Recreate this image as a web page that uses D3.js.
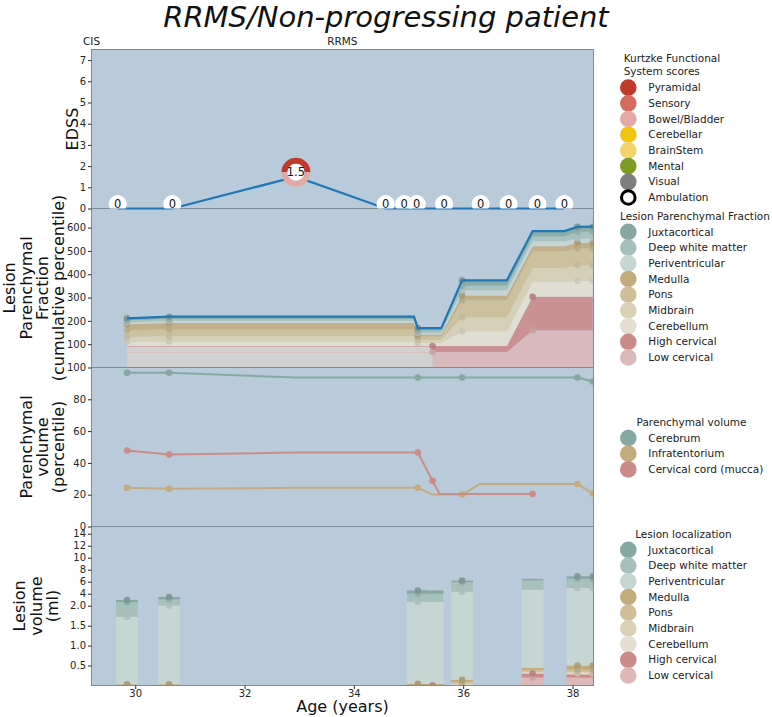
<!DOCTYPE html>
<html>
<head>
<meta charset="utf-8">
<script src="https://cdn.jsdelivr.net/npm/d3@7"></script>
<style>
body { margin: 0; background: #fff; }
svg { font-family: "DejaVu Sans", sans-serif; }
</style>
</head>
<body>
<div id="chart"></div>
<script>

// ---- EDSS visits ----
var edssAges   = [29.68, 30.68, 32.94, 34.58, 34.92, 35.15, 35.65, 36.32, 36.83, 37.36, 37.85];
var edssValues = [0, 0, 1.5, 0, 0, 0, 0, 0, 0, 0, 0];

// Kurtzke functional system scores per EDSS visit
var fsNames  = ["Pyramidal", "Sensory", "Bowel/Bladder", "Cerebellar", "BrainStem", "Mental", "Visual", "Ambulation"];
var fsColors = ["#c0392b", "#d4695f", "#e3aaa5", "#f1c40f", "#f4d36b", "#809b25", "#7f7f7f", "#ffffff"];
var fsPyramidal  = [0, 0, 1, 0, 0, 0, 0, 0, 0, 0, 0];
var fsSensory    = [0, 0, 0, 0, 0, 0, 0, 0, 0, 0, 0];
var fsBowel      = [0, 0, 1, 0, 0, 0, 0, 0, 0, 0, 0];
var fsCerebellar = [0, 0, 0, 0, 0, 0, 0, 0, 0, 0, 0];
var fsBrainStem  = [0, 0, 0, 0, 0, 0, 0, 0, 0, 0, 0];
var fsMental     = [0, 0, 0, 0, 0, 0, 0, 0, 0, 0, 0];
var fsVisual     = [0, 0, 0, 0, 0, 0, 0, 0, 0, 0, 0];

// disease phases
var phaseNames = ["CIS", "RRMS"];
var phaseAges  = [29.2, 33.79];

// lesion regions (legend order) and colours
var regionNames  = ["Juxtacortical", "Deep white matter", "Periventricular", "Medulla", "Pons", "Midbrain", "Cerebellum", "High cervical", "Low cervical"];
var regionColors = ["#87a8a2", "#a6c1bc", "#c5d6d3", "#c3ab7e", "#cfbf98", "#dad0b5", "#e4dfd2", "#cb8b89", "#dcb8b8"];

// ---- Lesion parenchymal fraction (percentile per region, values carried forward between scans) ----
var lpfAges      = [29.85, 30.62, 35.1, 35.17, 35.44, 35.6, 35.98, 36.8, 37.27, 37.85, 38.09, 38.37];
var lpfBrainScan = [1, 1, 0, 1, 0, 0, 1, 0, 0, 0, 1, 1];
var lpfCordScan  = [0, 0, 0, 0, 1, 0, 0, 0, 1, 0, 0, 0];
var lpfJuxta     = [9, 10, 10, 10, 10, 10, 23, 23, 23, 23, 21, 22];
var lpfDeep      = [9, 9, 9, 11, 11, 11, 20, 20, 20, 20, 29, 29];
var lpfPeriv     = [7, 8, 8, 6, 6, 6, 22, 22, 22, 22, 18, 19];
var lpfMedulla   = [26, 27, 27, 9, 9, 9, 21, 21, 21, 21, 24, 24];
var lpfPons      = [28, 29, 29, 14, 14, 14, 72, 72, 72, 72, 72, 71];
var lpfMidbrain  = [22, 23, 23, 14, 14, 14, 60, 60, 60, 60, 67, 67];
var lpfCerebellum= [18, 20, 20, 13, 13, 13, 64, 64, 64, 64, 69, 69];
var lpfHighCerv  = [26, 26, 26, 26, 26, 26, 26, 26, 143, 143, 143, 143];
var lpfLowCerv   = [66, 66, 66, 66, 66, 66, 66, 66, 160, 160, 160, 160];

// ---- Parenchymal volume (percentile) ----
var pvNames  = ["Cerebrum", "Infratentorium", "Cervical cord (mucca)"];
var pvColors = ["#87a8a2", "#c3ab7e", "#cb8b89"];
var cerebrumAges = [29.85, 30.62, 32.94, 35.17, 35.98, 38.09, 38.37];
var cerebrumPct  = [96.7, 96.7, 93.7, 93.7, 93.7, 93.7, 91.2];
var cerebrumDot  = [1, 1, 0, 1, 1, 1, 1];
var infraAges = [29.85, 30.62, 32.94, 35.17, 35.44, 35.98, 36.3, 38.09, 38.37];
var infraPct  = [24.3, 23.7, 24.3, 24.3, 20.1, 20.1, 26.7, 26.7, 20.8];
var infraDot  = [1, 1, 0, 1, 0, 1, 0, 1, 1];
var cordAges = [29.85, 30.62, 32.94, 35.17, 35.44, 35.57, 37.27];
var cordPct  = [47.8, 45.3, 46.5, 46.5, 28.7, 20.4, 20.4];
var cordDot  = [1, 1, 0, 1, 1, 0, 1];

// ---- Lesion volume (ml) ----
var lvAges      = [29.85, 30.62, 35.17, 35.44, 35.98, 37.27, 38.09, 38.37];
var lvBrainScan = [1, 1, 1, 0, 1, 0, 1, 1];
var lvCordScan  = [0, 0, 0, 1, 0, 1, 0, 0];
var lvJuxta     = [0.38, 0.40, 0.55, 0.55, 0.27, 0.27, 0.38, 0.38];
var lvDeep      = [0.85, 1.03, 1.35, 1.35, 1.57, 1.57, 1.55, 1.55];
var lvPeriv     = [1.69, 1.99, 2.60, 2.60, 4.20, 4.20, 4.45, 4.45];
var lvMedulla   = [0.03, 0.03, 0.04, 0.04, 0.05, 0.05, 0.10, 0.10];
var lvPons      = [0, 0, 0, 0, 0.04, 0.04, 0.06, 0.06];
var lvMidbrain  = [0, 0, 0, 0, 0.02, 0.02, 0.03, 0.03];
var lvCerebellum= [0, 0, 0, 0, 0.03, 0.03, 0.03, 0.03];
var lvHighCerv  = [0, 0, 0, 0, 0, 0.10, 0.08, 0.08];
var lvLowCerv   = [0, 0, 0, 0, 0, 0.20, 0.20, 0.20];

// axis ticks
var xTicks    = [30, 32, 34, 36, 38];
var edssTicks = [0, 1, 2, 3, 4, 5, 6, 7];
var lpfTicks  = [100, 200, 300, 400, 500, 600];
var pvTicks   = [0, 20, 40, 60, 80, 100];
var lvTicks   = [0.5, 1, 1.5, 2, 4, 6, 8, 10, 12, 14];

// ---- layout ----
var plotLeft = 91.5, plotRight = 593.5, plotTop = 49.5, panelH = 159;
var panels = [0, 1, 2, 3].map(function (i) {
    return { top: plotTop + i * panelH, bottom: plotTop + (i + 1) * panelH };
});
var bgColor = "#b9cbdb", spineColor = "#7f8c97", tickColor = "#262626";

var svg = d3.select("#chart").append("svg")
    .attr("width", 772)
    .attr("height", 717);

var defs = svg.append("defs");
panels.forEach(function (p, i) {
    defs.append("clipPath").attr("id", "clip" + i)
        .append("rect")
        .attr("x", plotLeft).attr("y", p.top)
        .attr("width", plotRight - plotLeft).attr("height", panelH);
});

var x = d3.scaleLinear().domain([29.2, 38.384]).range([plotLeft, plotRight]);
var yEdss = d3.scaleLinear().domain([0, 7.5]).range([panels[0].bottom, panels[0].top]);
var yLpf = d3.scaleLinear().domain([0, 682]).range([panels[1].bottom, panels[1].top]);
var yPv = d3.scaleLinear().domain([0, 100]).range([panels[2].bottom, panels[2].top]);
//lesion volume axis: stretched below 2 ml, compressed above
var yLv = d3.scaleLinear().domain([0, 2, 15.2])
    .range([panels[3].bottom, panels[3].bottom - panelH * 0.502, panels[3].top]);

// background of the four stacked panels
svg.append("rect")
    .attr("x", plotLeft).attr("y", plotTop)
    .attr("width", plotRight - plotLeft).attr("height", panelH * 4)
    .attr("fill", bgColor);

// title
svg.append("text")
    .attr("x", 386).attr("y", 27)
    .attr("text-anchor", "middle")
    .attr("font-size", "29px")
    .attr("font-style", "italic")
    .attr("fill", "#111")
    .text("RRMS/Non-progressing patient");

// phase labels
svg.selectAll(".phase")
    .data(phaseNames)
    .enter().append("text")
    .attr("class", "phase")
    .attr("x", function (d, i) { return x(phaseAges[i]); })
    .attr("y", 45)
    .attr("text-anchor", "middle")
    .attr("font-size", "10.5px")
    .attr("fill", "#222")
    .text(function (d) { return d; });

/* ---------------- Lesion parenchymal fraction ---------------- */
var stackKeys = ["lowC", "highC", "cereb", "midb", "pons", "med", "periv", "deep", "juxta"];
var stackColors = regionColors.slice().reverse();
var lpfRows = lpfAges.map(function (a, i) {
    return {
        age: a, lowC: lpfLowCerv[i], highC: lpfHighCerv[i], cereb: lpfCerebellum[i],
        midb: lpfMidbrain[i], pons: lpfPons[i], med: lpfMedulla[i],
        periv: lpfPeriv[i], deep: lpfDeep[i], juxta: lpfJuxta[i]
    };
});
var lpfStack = d3.stack().keys(stackKeys)(lpfRows);

var gLpf = svg.append("g").attr("clip-path", "url(#clip1)");
var lpfArea = d3.area()
    .x(function (d) { return x(d.data.age); })
    .y0(function (d) { return yLpf(d[0]); })
    .y1(function (d) { return yLpf(d[1]); });
var lpfTop = d3.line()
    .x(function (d) { return x(d.data.age); })
    .y(function (d) { return yLpf(d[1]); });

var firstCord = lpfCordScan.indexOf(1);
lpfStack.forEach(function (layer, k) {
    if (k < 2) {
        // cervical cord not measured yet: grey
        var before = layer.slice(0, firstCord + 1);
        gLpf.append("path").datum(before)
            .attr("d", lpfArea)
            .attr("fill", "#d1d1d1");
        gLpf.append("path").datum(before)
            .attr("d", lpfTop)
            .attr("fill", "none")
            .attr("stroke", stackColors[k])
            .attr("stroke-width", 1);
        gLpf.append("path").datum(layer.slice(firstCord))
            .attr("d", lpfArea)
            .attr("fill", stackColors[k])
            .attr("fill-opacity", 0.9);
    } else {
        gLpf.append("path").datum(layer)
            .attr("d", lpfArea)
            .attr("fill", stackColors[k])
            .attr("fill-opacity", 0.9);
    }
});

// markers at the scan dates
lpfStack.forEach(function (layer, k) {
    var flags = k < 2 ? lpfCordScan : lpfBrainScan;
    gLpf.selectAll(".m" + k)
        .data(layer.filter(function (d, i) { return flags[i]; }))
        .enter().append("circle")
        .attr("cx", function (d) { return x(d.data.age); })
        .attr("cy", function (d) { return yLpf(d[1]); })
        .attr("r", 3.3)
        .attr("fill", d3.color(stackColors[k]).darker(0.35))
        .attr("fill-opacity", 0.85);
});

gLpf.append("path").datum(lpfStack[lpfStack.length - 1])
    .attr("d", lpfTop)
    .attr("fill", "none")
    .attr("stroke", "#1f77b4")
    .attr("stroke-width", 2.2);

/* ---------------- Parenchymal volume ---------------- */
var gPv = svg.append("g").attr("clip-path", "url(#clip2)");
var pvSeries = [
    { ages: cerebrumAges, vals: cerebrumPct, dots: cerebrumDot },
    { ages: infraAges, vals: infraPct, dots: infraDot },
    { ages: cordAges, vals: cordPct, dots: cordDot }
];
var pvLine = d3.line()
    .x(function (d) { return x(d[0]); })
    .y(function (d) { return yPv(d[1]); });

pvSeries.forEach(function (s, k) {
    var pts = s.ages.map(function (a, i) { return [a, s.vals[i], s.dots[i]]; });
    gPv.append("path").datum(pts)
        .attr("d", pvLine)
        .attr("fill", "none")
        .attr("stroke", pvColors[k])
        .attr("stroke-width", 2)
        .attr("stroke-linejoin", "round");
    gPv.selectAll(".pv" + k)
        .data(pts.filter(function (d) { return d[2]; }))
        .enter().append("circle")
        .attr("cx", function (d) { return x(d[0]); })
        .attr("cy", function (d) { return yPv(d[1]); })
        .attr("r", 3.3)
        .attr("fill", pvColors[k]);
});

/* ---------------- Lesion volume ---------------- */
var lvRows = lvAges.map(function (a, i) {
    return {
        age: a, lowC: lvLowCerv[i], highC: lvHighCerv[i], cereb: lvCerebellum[i],
        midb: lvMidbrain[i], pons: lvPons[i], med: lvMedulla[i],
        periv: lvPeriv[i], deep: lvDeep[i], juxta: lvJuxta[i]
    };
});
var lvStack = d3.stack().keys(stackKeys)(lvRows);
var barHalf = 0.2; // years

var gLv = svg.append("g").attr("clip-path", "url(#clip3)");
lvStack.forEach(function (layer, k) {
    gLv.selectAll(".bar" + k)
        .data(layer)
        .enter().append("rect")
        .attr("x", function (d) { return x(d.data.age - barHalf); })
        .attr("width", function (d) { return x(d.data.age + barHalf) - x(d.data.age - barHalf); })
        .attr("y", function (d) { return yLv(d[1]); })
        .attr("height", function (d) { return yLv(d[0]) - yLv(d[1]); })
        .attr("fill", stackColors[k]);
});
lvStack.forEach(function (layer, k) {
    var flags = k < 2 ? lvCordScan : lvBrainScan;
    gLv.selectAll(".lm" + k)
        .data(layer.filter(function (d, i) { return flags[i]; }))
        .enter().append("circle")
        .attr("cx", function (d) { return x(d.data.age); })
        .attr("cy", function (d) { return yLv(d[1]); })
        .attr("r", 3.3)
        .attr("fill", d3.color(stackColors[k]).darker(0.35))
        .attr("fill-opacity", 0.85);
});

/* ---------------- spines + axes ---------------- */
panels.forEach(function (p) {
    svg.append("rect")
        .attr("x", plotLeft).attr("y", p.top)
        .attr("width", plotRight - plotLeft).attr("height", panelH)
        .attr("fill", "none")
        .attr("stroke", spineColor)
        .attr("stroke-width", 1);
});

function styleAxis(g) {
    g.select(".domain").remove();
    g.selectAll(".tick line").attr("stroke", tickColor);
    g.selectAll(".tick text").attr("fill", tickColor).attr("font-size", "10px")
        .attr("font-family", "DejaVu Sans");
}

svg.append("g").attr("transform", "translate(" + plotLeft + ",0)")
    .call(d3.axisLeft(yEdss).tickValues(edssTicks).tickSize(3.5).tickPadding(2))
    .call(styleAxis);
svg.append("g").attr("transform", "translate(" + plotLeft + ",0)")
    .call(d3.axisLeft(yLpf).tickValues(lpfTicks).tickSize(3.5).tickPadding(2))
    .call(styleAxis);
svg.append("g").attr("transform", "translate(" + plotLeft + ",0)")
    .call(d3.axisLeft(yPv).tickValues(pvTicks).tickSize(3.5).tickPadding(2))
    .call(styleAxis);
svg.append("g").attr("transform", "translate(" + plotLeft + ",0)")
    .call(d3.axisLeft(yLv).tickValues(lvTicks).tickSize(3.5).tickPadding(2)
        .tickFormat(function (d) { return d <= 2 ? d3.format(".1f")(d) : d3.format("d")(d); }))
    .call(styleAxis);
svg.append("g").attr("transform", "translate(0," + panels[3].bottom + ")")
    .call(d3.axisBottom(x).tickValues(xTicks).tickSize(3.5).tickPadding(0.5))
    .call(styleAxis);

svg.append("text")
    .attr("x", (plotLeft + plotRight) / 2).attr("y", 712)
    .attr("text-anchor", "middle")
    .attr("font-size", "16px")
    .attr("fill", "#111")
    .text("Age (years)");

// rotated y labels, one text per line
var yLabels = [
    { lines: ["EDSS"], last: 78.3 },
    { lines: ["Lesion", "Parenchymal", "Fraction", "(cumulative percentile)"], last: 64.3 },
    { lines: ["Parenchymal", "volume", "(percentile)"], last: 64.3 },
    { lines: ["Lesion", "volume", "(ml)"], last: 58 }
];
yLabels.forEach(function (lab, i) {
    var cy = (panels[i].top + panels[i].bottom) / 2;
    var n = lab.lines.length;
    lab.lines.forEach(function (t, j) {
        var bx = lab.last - (n - 1 - j) * 16.4;
        svg.append("text")
            .attr("transform", "translate(" + bx + "," + cy + ") rotate(-90)")
            .attr("text-anchor", "middle")
            .attr("font-size", "16px")
            .attr("fill", "#111")
            .text(t);
    });
});

/* ---------------- EDSS ---------------- */
var edssPts = edssAges.map(function (a, i) { return [a, edssValues[i]]; });
svg.append("path").datum(edssPts)
    .attr("d", d3.line()
        .x(function (d) { return x(d[0]); })
        .y(function (d) { return yEdss(d[1]); }))
    .attr("fill", "none")
    .attr("stroke", "#1f77b4")
    .attr("stroke-width", 2.2);

var fsTable = [fsPyramidal, fsSensory, fsBowel, fsCerebellar, fsBrainStem, fsMental, fsVisual];
var gEdss = svg.append("g").attr("clip-path", "url(#clip0)");
var pie = d3.pie().sort(null).startAngle(-Math.PI / 2).endAngle(Math.PI * 1.5);
var arc = d3.arc().innerRadius(8.5).outerRadius(14.5);

edssAges.forEach(function (a, i) {
    var cx = x(a), cy = yEdss(edssValues[i]) - 4.5;
    var scores = fsTable.map(function (s) { return s[i]; });
    var g = gEdss.append("g").attr("transform", "translate(" + cx + "," + cy + ")");
    if (d3.sum(scores) > 0) {
        g.selectAll("path")
            .data(pie(scores))
            .enter().append("path")
            .attr("d", arc)
            .attr("fill", function (d, k) { return fsColors[k]; });
        g.append("circle").attr("r", 8.5).attr("fill", "#fff");
    } else {
        g.append("circle").attr("r", 9).attr("fill", "#fff");
    }
    g.append("text")
        .attr("text-anchor", "middle")
        .attr("dy", "0.36em")
        .attr("font-size", "11.5px")
        .attr("fill", "#111")
        .text(d3.format("~g")(edssValues[i]));
});

/* ---------------- legends ---------------- */
function drawLegend(title, names, colors, panel, ring) {
    var rowH = 15.7, titleH = 13.7;
    var cyPanel = (panel.top + panel.bottom) / 2;
    var blockH = title.length * titleH + names.length * rowH + 2.3;
    var first = cyPanel - blockH / 2 + title.length * titleH + 2.3 + rowH / 2 - 1.3;
    var g = svg.append("g").attr("font-size", "10.5px").attr("fill", "#222");

    var items = g.selectAll(".item")
        .data(names)
        .enter().append("g")
        .attr("transform", function (d, i) { return "translate(628.3," + (first + i * rowH) + ")"; });
    items.append("circle")
        .attr("r", function (d, i) { return i === ring ? 6.8 : 8.3; })
        .attr("fill", function (d, i) { return colors[i]; })
        .attr("stroke", function (d, i) { return i === ring ? "#000" : "none"; })
        .attr("stroke-width", 3);
    var labels = items.append("text")
        .attr("x", 20)
        .attr("dy", "0.35em")
        .text(function (d) { return d; });

    // title block centred over the legend, its lines left aligned
    var entriesW = 28 + d3.max(labels.nodes(), function (n) { return n.getComputedTextLength(); });
    var titles = g.selectAll(".title")
        .data(title)
        .enter().append("text")
        .attr("y", function (d, i) { return first - 16 - (title.length - 1 - i) * titleH; })
        .attr("dy", "0.35em")
        .text(function (d) { return d; });
    var titleW = d3.max(titles.nodes(), function (n) { return n.getComputedTextLength(); });
    var boxW = Math.max(entriesW, titleW);
    titles.attr("x", 620 + (boxW - titleW) / 2);
}

drawLegend(["Kurtzke Functional", "System scores"], fsNames, fsColors, panels[0], 7);
drawLegend(["Lesion Parenchymal Fraction"], regionNames, regionColors, panels[1], -1);
drawLegend(["Parenchymal volume"], pvNames, pvColors, panels[2], -1);
drawLegend(["Lesion localization"], regionNames, regionColors, panels[3], -1);

</script>
</body>
</html>
